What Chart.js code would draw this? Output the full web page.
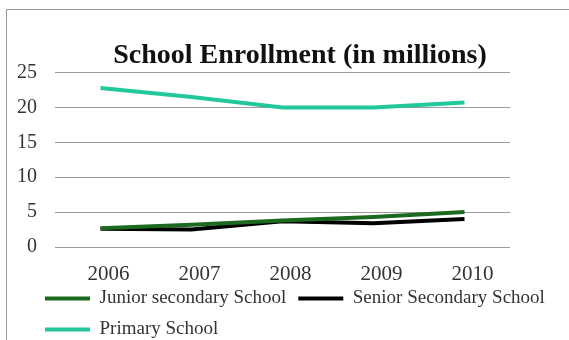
<!DOCTYPE html>
<html>
<head>
<meta charset="utf-8">
<script src="https://cdn.jsdelivr.net/npm/chart.js@4"></script>
<style>
  html, body { margin: 0; padding: 0; background: #fff; }
  #frame {
    position: absolute; left: 6px; top: 9px;
    width: 563px; height: 331px;
    border-left: 1px solid #9a9a9a; border-top: 1px solid #9a9a9a;
    box-sizing: border-box;
  }
  #wrap { position: absolute; left: 0; top: 0; width: 562px; height: 330px; }
</style>
</head>
<body>
<div id="frame"><div id="wrap"><canvas id="chart"></canvas></div></div>
<script>
const years = ['2006', '2007', '2008', '2009', '2010'];
const juniorSecondary = [2.7, 3.2, 3.8, 4.3, 5.0];
const seniorSecondary = [2.6, 2.5, 3.7, 3.4, 4.0];
const primary = [22.8, 21.5, 20.0, 20.0, 20.7];
const yTicks = [0, 5, 10, 15, 20, 25];

const serif = "'Liberation Serif', 'Times New Roman', serif";

// nudge legend + title to where the original sits (legend overlaps the axis area a bit)
// and let the x labels draw past their squeezed box
const moveLegend = {
  id: 'moveLegend',
  afterLayout(chart) {
    const lg = chart.legend;
    lg.left += 26; lg.right += 26;
    lg.top += 9; lg.bottom += 9;
    chart.titleBlock.left += 12; chart.titleBlock.right += 12;
    chart.scales.x.bottom += 30;
  }
};

const ctx = document.getElementById('chart').getContext('2d');
new Chart(ctx, {
  type: 'line',
  data: {
    labels: years,
    datasets: [
      { label: 'Junior secondary School', data: juniorSecondary, borderColor: '#1b6a1f', backgroundColor: '#1b6a1f', borderWidth: 4, pointRadius: 0, tension: 0 },
      { label: 'Senior Secondary School', data: seniorSecondary, borderColor: '#000000', backgroundColor: '#000000', borderWidth: 4, pointRadius: 0, tension: 0 },
      { label: 'Primary School', data: primary, borderColor: '#22c79c', backgroundColor: '#22c79c', borderWidth: 4, pointRadius: 0, tension: 0 }
    ]
  },
  plugins: [moveLegend],
  options: {
    responsive: true,
    maintainAspectRatio: false,
    animation: false,
    layout: { padding: { left: 0, right: 0, top: 29, bottom: 0 } },
    plugins: {
      title: {
        display: true,
        text: 'School Enrollment (in millions)',
        color: '#111',
        font: { family: serif, size: 28, weight: 'bold' },
        padding: { top: 0, bottom: 0 }
      },
      legend: {
        position: 'bottom',
        align: 'start',
        labels: {
          usePointStyle: true,
          pointStyle: 'line',
          pointStyleWidth: 45,
          padding: 12,
          color: '#333',
          font: { family: serif, size: 19 }
        }
      },
      tooltip: { enabled: false }
    },
    scales: {
      x: {
        offset: true,
        grid: { display: false, drawTicks: false },
        border: { display: false },
        afterFit: (s) => { s.height = 21; },
        ticks: { color: '#333', padding: 15, labelOffset: 8, font: { family: serif, size: 21 } }
      },
      y: {
        min: 0,
        max: 25,
        afterBuildTicks: (axis) => { axis.ticks = yTicks.map(v => ({ value: v })); },
        afterFit: (s) => { s.width = 48; },
        grid: { color: '#9a9a9a', lineWidth: 1, drawTicks: false },
        border: { display: false },
        ticks: { color: '#333', padding: 18, font: { family: serif, size: 20 } }
      },
      yRight: {
        position: 'right',
        display: true,
        afterFit: (s) => { s.width = 59; },
        grid: { display: false, drawTicks: false },
        border: { display: false },
        ticks: { display: false }
      }
    }
  }
});
</script>
</body>
</html>
